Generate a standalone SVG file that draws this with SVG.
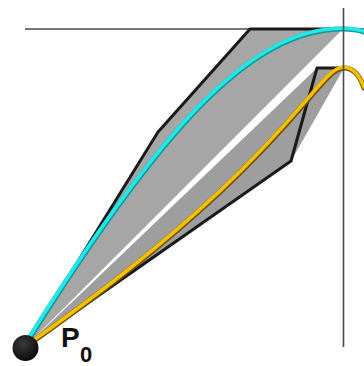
<svg xmlns="http://www.w3.org/2000/svg" width="364" height="366" viewBox="0 0 364 366">
  <defs>
    <style>
      .hull-a { fill: #a6a6a6; stroke: none; }
      .hull-b { fill: #9e9e9e; stroke: none; }
      .poly { fill: none; stroke: #1a1a1a; stroke-width: 3; stroke-linejoin: round; stroke-linecap: round; }
      .axis { fill: none; stroke: #4a4a4a; stroke-width: 1.6; }
      .cyan-shade { fill: none; stroke: #0c9a9a; stroke-width: 5.2; stroke-linecap: round; }
      .cyan { fill: none; stroke: #22e8e8; stroke-width: 3.6; stroke-linecap: round; }
      .yel-shade { fill: none; stroke: #6e5200; stroke-width: 5.2; stroke-linecap: round; }
      .yel { fill: none; stroke: #f4c000; stroke-width: 3.6; stroke-linecap: round; }
      .lbl { font-family: "Liberation Sans", Arial, sans-serif; fill: #111; }
    </style>
    <radialGradient id="ball" cx="0.4" cy="0.35" r="0.7">
      <stop offset="0" stop-color="#3a3a3a"/>
      <stop offset="1" stop-color="#080808"/>
    </radialGradient>
  </defs>
  <rect width="364" height="366" fill="#ffffff"/>

  <g id="hulls">
    <polygon id="hull-upper" class="hull-a" points="25,347 158,132 250,29 343,29"/>
    <polygon id="hull-lower" class="hull-b" points="25,347 291,161 344,68 317,68"/>
  </g>

  <g id="axes">
    <line class="axis" x1="25" y1="29" x2="364" y2="29"/>
  </g>

  <g id="connectors">
    <polyline id="ctrl-upper" class="poly" points="25,347 158,132 250,29 343,29"/>
    <polyline id="ctrl-lower" class="poly" points="25,347 291,161 317,68 344,68"/>
  </g>

  <g id="curve-cyan">
    <path class="cyan-shade" d="M24,347 C158,132 250,29 343,29 C352,29 358,30 364,32"/>
    <path class="cyan" d="M23.5,346.3 C157.5,131.3 249.5,28.3 342.5,28.3 C351.5,28.3 357.5,29.3 364,31.3"/>
  </g>

  <g id="curve-yellow">
    <path class="yel-shade" d="M25,347 C291,161 317,68 344,68 C353,68 360,76 364,88"/>
    <path class="yel" d="M25,346.3 C290.5,160.3 316.5,67.3 343.5,67.3 C352.5,67.3 359.5,75.3 364,87.3"/>
  </g>

  <g id="vaxis">
    <line class="axis" x1="343.5" y1="8" x2="343.5" y2="347"/>
  </g>

  <g id="node-p0">
    <circle cx="25.5" cy="348" r="13" fill="url(#ball)"/>
    <text class="lbl" x="61" y="347" font-size="28" font-weight="bold">P</text>
    <text class="lbl" x="80" y="362" font-size="22" font-weight="bold">0</text>
  </g>
</svg>
